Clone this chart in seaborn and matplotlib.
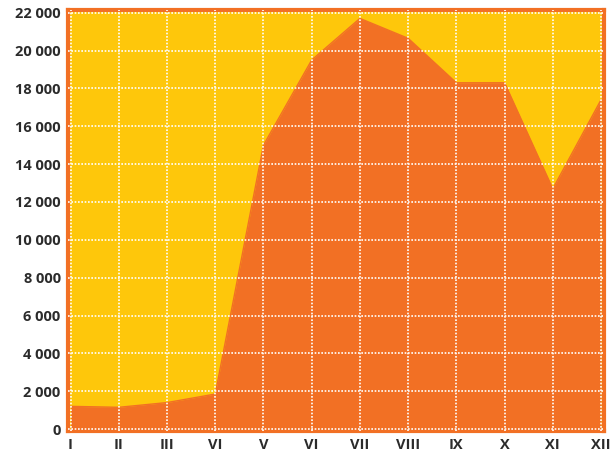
import matplotlib.pyplot as plt
import pandas as pd
import seaborn as sns

months = ['I', 'II', 'III', 'VI', 'V', 'VI', 'VII', 'VIII', 'IX', 'X', 'XI', 'XII']
values = [1200, 1150, 1400, 1850, 15000, 19500, 21700, 20650, 18300, 18300, 12700, 17400]
yticks = list(range(0, 22001, 2000))

df = pd.DataFrame({'pos': range(len(months)), 'value': values})

sns.set_style('white')
plt.rcParams['font.family'] = ['Open Sans', 'DejaVu Sans']

fig, ax = plt.subplots(figsize=(6.15, 4.55), dpi=100)
fig.subplots_adjust(left=0.11, right=0.982, top=0.977, bottom=0.052)

ax.set_facecolor('#FEC70B')
sns.lineplot(data=df, x='pos', y='value', ax=ax, color='#F27024', lw=1)
ax.fill_between(df['pos'], df['value'], 0, color='#F27024', lw=0)

ax.set_xlim(-0.06, 11.06)
ax.set_ylim(-120, 22120)
ax.set_xticks(df['pos'])
ax.set_xticklabels(months)
ax.set_yticks(yticks)
ax.set_yticklabels([f'{v:,}'.replace(',', ' ') for v in yticks])
ax.set_xlabel('')
ax.set_ylabel('')

ax.grid(True, color='white', linestyle=(0, (1, 1)), lw=1.2)
ax.set_axisbelow(False)
for s in ax.spines.values():
    s.set_color('#F27024')
    s.set_linewidth(3)

ax.tick_params(length=0, labelsize=10.5, labelcolor='#2b2b2b')
ax.tick_params(axis='x', pad=5)
ax.tick_params(axis='y', pad=5)
for lbl in ax.get_xticklabels() + ax.get_yticklabels():
    lbl.set_fontweight('bold')

plt.savefig('out.png', dpi=100)
